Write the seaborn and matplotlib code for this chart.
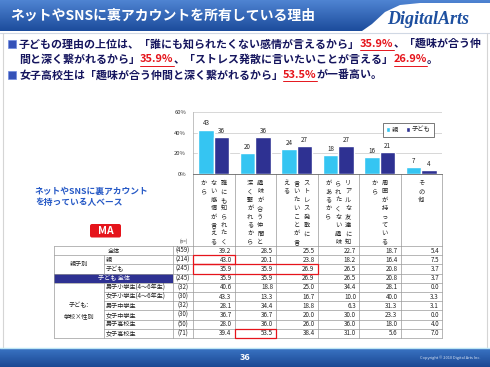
import numpy as np
import pandas as pd
import seaborn as sns
import matplotlib
matplotlib.use('Agg')
import matplotlib.pyplot as plt
from matplotlib.patches import Rectangle, FancyBboxPatch, Polygon
from matplotlib.colors import LinearSegmentedColormap

# chart data
categories = ['誰にも知られたく\nない感情が言える\nから',
              '趣味が合う仲間と\n深く繋がれるから',
              'ストレス発散に\n言いたいことが言\nえる',
              'リアルな友達に知\nられたくない趣味\nがあるから',
              '周囲が持っている\nから',
              'その他']
series = ['親', '子ども']
parent_pct = [43, 20, 24, 18, 16, 7]
child_pct = [36, 36, 27, 27, 21, 4]

# table data
row_labels = ['全体', '親', '子ども', '子ども 全体',
              '男子小学生(4～6年生)', '女子小学生(4～6年生)',
              '男子中学生', '女子中学生', '男子高校生', '女子高校生']
row_groups = [None, '親子別', '親子別', None,
              '子ども:\n学校×性別', '子ども:\n学校×性別', '子ども:\n学校×性別',
              '子ども:\n学校×性別', '子ども:\n学校×性別', '子ども:\n学校×性別']
row_n = [459, 214, 245, 245, 32, 30, 32, 30, 50, 71]
table_values = [
    [39.2, 28.5, 25.5, 22.7, 18.7, 5.4],
    [43.0, 20.1, 23.8, 18.2, 16.4, 7.5],
    [35.9, 35.9, 26.9, 26.5, 20.8, 3.7],
    [35.9, 35.9, 26.9, 26.5, 20.8, 3.7],
    [40.6, 18.8, 25.0, 34.4, 28.1, 0.0],
    [43.3, 13.3, 16.7, 10.0, 40.0, 3.3],
    [28.1, 34.4, 18.8, 6.3, 31.3, 3.1],
    [36.7, 36.7, 20.0, 30.0, 23.3, 0.0],
    [28.0, 36.0, 26.0, 36.0, 18.0, 4.0],
    [39.4, 53.5, 38.4, 31.0, 5.6, 7.0],
]
# (row, first col, last col + 1) boxed in red
highlights = [(1, 0, 1), (2, 0, 3), (9, 1, 2)]

C_PARENT = '#35C5F2'
C_CHILD = '#2E3192'
NAVY_TXT = '#15155E'
RED = '#E5141B'

sns.set_theme(style='white')
plt.rcParams['font.family'] = ['Noto Sans CJK JP', 'DejaVu Sans']

fig = plt.figure(figsize=(4.9, 3.67), dpi=100)
bg = fig.add_axes([0, 0, 1, 1], zorder=0)
bg.axis('off')
bg.set_xlim(0, 490)
bg.set_ylim(367, 0)


def gradient(x0, x1, y0, y1, c_top, c_bot, clip=None):
    cmap = LinearSegmentedColormap.from_list('g', [c_top, c_bot])
    im = bg.imshow(np.linspace(0, 1, 64).reshape(-1, 1), cmap=cmap,
                   extent=(x0, x1, y1, y0), aspect='auto', origin='upper',
                   zorder=1)
    if clip is not None:
        im.set_clip_path(clip)
    return im


# title bar
verts = [(0, 0), (490, 0), (490, 3), (420, 3), (400, 5), (385, 12),
         (372, 24), (362, 31), (0, 31)]
poly = Polygon(verts, closed=True, transform=bg.transData,
               facecolor='none', edgecolor='none')
bg.add_patch(poly)
gradient(0, 490, 0, 31, '#4F84D2', '#1C4C9C', clip=poly)
bg.plot([0, 490], [32.5, 32.5], color='#d0d8e4', lw=0.8, zorder=2)
bg.text(10, 16, 'ネットやSNSに裏アカウントを所有している理由', color='white',
        fontsize=10, fontweight='bold', va='center', ha='left', zorder=3)
bg.text(428, 20, 'DigitalArts', family='Liberation Serif', style='italic',
        fontweight='bold', fontsize=13, color='#1D4F9F', ha='center',
        va='center', zorder=3)

# side frame
bg.plot([3, 3], [33, 347], color='#d5d5d5', lw=0.8)
bg.plot([487, 487], [33, 347], color='#d5d5d5', lw=0.8)

# footer
gradient(0, 490, 348, 367, '#3A74C4', '#1B4893')
bg.plot([0, 490], [347.5, 347.5], color='#bfe6f5', lw=1)
bg.text(245, 357.5, '36', color='white', fontsize=6.5, fontweight='bold',
        ha='center', va='center', zorder=3)
bg.text(480, 358, 'Copyright © 2010 Digital Arts Inc.', color='#dfe8f5',
        fontsize=2.8, ha='right', va='center', zorder=3)

# bullet text
renderer = fig.canvas.get_renderer()


def rich(x, y, parts, size=7.9):
    for s, color, ul in parts:
        t = bg.text(x, y, s, color=color, fontsize=size, fontweight='bold',
                    va='center', ha='left', zorder=3)
        bb = t.get_window_extent(renderer=renderer)
        if ul:
            bg.plot([x, x + bb.width], [y + 6, y + 6], color=color, lw=0.7)
        x += bb.width


for yb in (44, 75):
    bg.add_patch(Rectangle((8, yb - 4.5), 8, 8, facecolor='#3552B8',
                           edgecolor='#6F8BE0', lw=0.5, zorder=3))

kid = table_values[2]
hs_girl = table_values[9]
rich(19, 44, [('子どもの理由の上位は、「誰にも知られたくない感情が言えるから」', NAVY_TXT, False),
              (f'{kid[0]:.1f}%', RED, True),
              ('、「趣味が合う仲', NAVY_TXT, False)])
rich(19, 59.5, [('間と深く繋がれるから」', NAVY_TXT, False),
                (f'{kid[1]:.1f}%', RED, True),
                ('、「ストレス発散に言いたいことが言える」', NAVY_TXT, False),
                (f'{kid[2]:.1f}%', RED, True),
                ('。', NAVY_TXT, False)])
rich(19, 75, [('女子高校生は「趣味が合う仲間と深く繋がれるから」', NAVY_TXT, False),
              (f'{hs_girl[1]:.1f}%', RED, True),
              ('が一番高い。', NAVY_TXT, False)])

# left note
bg.text(35, 197, 'ネットやSNSに裏アカウント\nを持っている人ベース', color='#2659C6',
        fontsize=6.3, fontweight='bold', ha='left', va='center',
        linespacing=1.35)
bg.add_patch(FancyBboxPatch((90, 224), 31, 13.5,
                            boxstyle='round,pad=0,rounding_size=2',
                            facecolor=RED, edgecolor='none', zorder=3))
bg.text(105.5, 231, 'MA', color='white', fontsize=7.5, fontweight='bold',
        ha='center', va='center', zorder=4)

# bar chart
ax = fig.add_axes([193 / 490, 1 - 174 / 367, 249 / 490, 62 / 367], zorder=2)
ax.set_facecolor('none')
df = pd.DataFrame({
    '理由': categories * 2,
    '割合': parent_pct + child_pct,
    '回答者': [series[0]] * len(categories) + [series[1]] * len(categories),
})
sns.barplot(data=df, x='理由', y='割合', hue='回答者',
            palette=[C_PARENT, C_CHILD], width=0.75, saturation=1, ax=ax)
for cont in ax.containers:
    ax.bar_label(cont, fmt='%d', fontsize=4.5, padding=1.5, color='#222222')
ax.set_xlim(-0.5, len(categories) - 0.5)
ax.set_ylim(0, 60)
ax.set_yticks([0, 20, 40, 60])
ax.set_yticklabels([f'{v}%' for v in [0, 20, 40, 60]], fontsize=4.2,
                   color='#333333')
ax.tick_params(axis='y', length=0, pad=5)
ax.set_xticks([])
ax.set_xlabel('')
ax.set_ylabel('')
ax.yaxis.grid(True, color='#c8c8c8', lw=0.5)
ax.set_axisbelow(True)
for side in ['top', 'right']:
    ax.spines[side].set_visible(False)
ax.spines['left'].set_color('#aaaaaa')
ax.spines['left'].set_linewidth(0.5)
ax.spines['bottom'].set_color('#666666')
ax.spines['bottom'].set_linewidth(0.6)
leg = ax.legend(title=None, loc='upper right', bbox_to_anchor=(0.98, 0.88),
                fontsize=4.5, ncol=2, frameon=True, fancybox=False,
                edgecolor='#444444', framealpha=1, handlelength=0.7,
                handleheight=0.7, handletextpad=0.3, columnspacing=1.2,
                borderpad=0.5)
leg.get_frame().set_linewidth(0.5)

# category boxes below the axis, columns from the chart scale
bx = [ax.transData.transform((i - 0.5, 0))[0] for i in range(len(categories) + 1)]
box_top, top, rh = 174, 246, 9.2
for x in bx:
    bg.plot([x, x], [box_top, top], color='#999999', lw=0.5)
for i, cat in enumerate(categories):
    cx = ax.transData.transform((i, 0))[0]
    cols = cat.split('\n')
    for j, col in enumerate(cols):
        x = cx + (len(cols) - 1) / 2 * 10 - j * 10
        for k, ch in enumerate(col):
            bg.text(x, 183 + k * 8.4, ch, fontsize=4.5, color='#222222',
                    ha='center', va='center')
bg.text(184, 241, '(n=)', fontsize=3.3, color='#444444', ha='center',
        va='center')

# table
x_left, x_grp, x_n = 54, 104, 173
nrows = len(row_labels)
bottom = top + nrows * rh
lc = '#9a9a9a'
for k in range(nrows + 1):
    y = top + k * rh
    full = (k in (0, nrows) or row_groups[k - 1] is None or row_groups[k] is None
            or row_groups[k - 1] != row_groups[k])
    bg.plot([x_left if full else x_grp, bx[-1]], [y, y], color=lc, lw=0.5)
for x in [x_left, x_n] + bx:
    bg.plot([x, x], [top, bottom], color=lc, lw=0.5)

for k in range(nrows):
    yc = top + (k + 0.5) * rh
    if row_groups[k] is None:
        if k == 3:
            bg.add_patch(Rectangle((x_left, top + k * rh), x_n - x_left, rh,
                                   facecolor=C_CHILD, edgecolor='none'))
            bg.text((x_left + x_n) / 2, yc, row_labels[k], color='white',
                    fontsize=4.4, ha='center', va='center')
        else:
            bg.text((x_left + x_n) / 2, yc, row_labels[k], color='#222222',
                    fontsize=4.4, ha='center', va='center')
    else:
        bg.plot([x_grp, x_grp], [top + k * rh, top + (k + 1) * rh],
                color=lc, lw=0.5)
        bg.text(x_grp + 2, yc, row_labels[k], color='#222222', fontsize=4.4,
                ha='left', va='center')
    bg.text((x_n + bx[0]) / 2, yc, f'({row_n[k]})', color='#222222',
            fontsize=4.4, ha='center', va='center')
    for j, v in enumerate(table_values[k]):
        bg.text(bx[j + 1] - 3, yc, f'{v:.1f}', color='#222222', fontsize=4.5,
                ha='right', va='center')

for grp in dict.fromkeys(g for g in row_groups if g is not None):
    idx = [k for k, g in enumerate(row_groups) if g == grp]
    yc = top + (idx[0] + idx[-1] + 1) / 2 * rh
    bg.text((x_left + x_grp) / 2, yc, grp, color='#222222', fontsize=4.4,
            ha='center', va='center', linespacing=1.5)

for r, c0, c1 in highlights:
    bg.add_patch(Rectangle((bx[c0], top + r * rh), bx[c1] - bx[c0], rh,
                           facecolor='none', edgecolor=RED, lw=0.9, zorder=4))

bg.set_xlim(0, 490)
bg.set_ylim(367, 0)
fig.savefig('out.png', dpi=100)
